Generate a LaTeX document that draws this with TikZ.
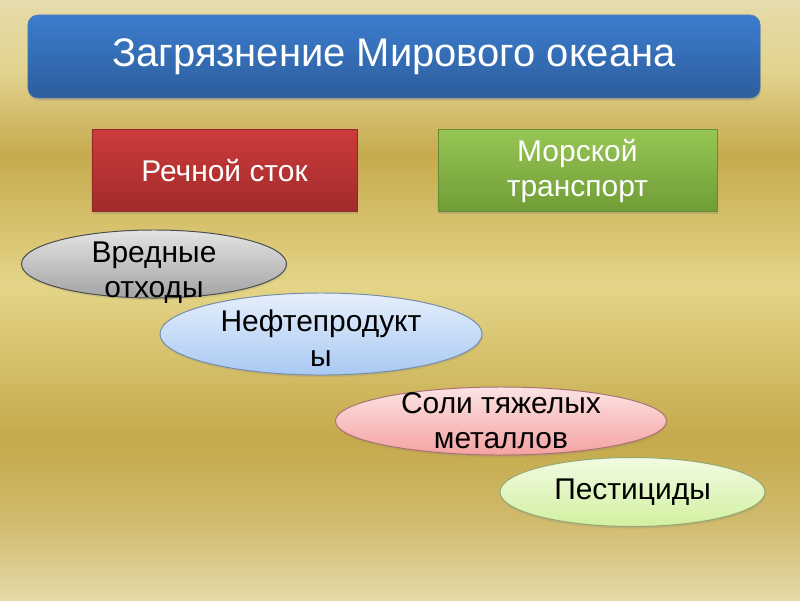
\documentclass[tikz,border=0pt]{standalone}
\usepackage{fontspec}
\setmainfont{Liberation Sans}
\usetikzlibrary{shapes.geometric, shadows, positioning}
\definecolor{bgA}{HTML}{E4D9A8}
\definecolor{bgB}{HTML}{D0BA6C}
\definecolor{bgC}{HTML}{C5A94B}
\definecolor{bgD}{HTML}{E4D588}
\definecolor{bgE}{HTML}{C6AA4E}
\definecolor{bgF}{HTML}{E2D38E}
\definecolor{bgG}{HTML}{E6DCAC}
\definecolor{titleT}{HTML}{3B7DCE}
\definecolor{titleB}{HTML}{2D5D9C}
\definecolor{redT}{HTML}{CD3B3B}
\definecolor{redB}{HTML}{A12B2B}
\definecolor{greenT}{HTML}{98C655}
\definecolor{greenB}{HTML}{709C36}
\definecolor{grayE}{HTML}{A3A3A3}
\definecolor{blueE}{HTML}{A9C9F3}
\definecolor{pinkE}{HTML}{F5A2A2}
\definecolor{limeE}{HTML}{D2F0A0}
% middle 50bp of the shading is mapped onto the path
\pgfdeclareverticalshading{goldbg}{100bp}{color(0bp)=(bgA); color(25bp)=(bgA);
  color(31.67bp)=(bgB); color(38.33bp)=(bgC); color(51.25bp)=(bgD);
  color(62.08bp)=(bgE); color(69.17bp)=(bgF); color(75bp)=(bgG);
  color(100bp)=(bgG)}

\begin{document}
\begin{tikzpicture}[
  x=0.025cm, y=0.025cm,
  headbox/.style={
    top color=titleT, bottom color=titleB, draw=titleB!80!white,
    text=white, font=\fontsize{28.4}{34}\selectfont,
    minimum width=18.3cm, minimum height=2.075cm,
    rounded corners=7pt, line width=0.4pt,
    drop shadow={opacity=0.3, shadow xshift=0.6pt, shadow yshift=-1.8pt}
  },
  srcbox/.style 2 args={
    top color=#1, bottom color=#2, draw=#2!90!black,
    text=white, font=\fontsize{21.3}{24.9}\selectfont, align=center,
    minimum height=2.05cm, line width=0.3pt,
    drop shadow={opacity=0.3, shadow xshift=0.6pt, shadow yshift=-1.8pt}
  },
  blob/.style={
    ellipse, inner sep=0pt,
    top color=#1!30!white, bottom color=#1, draw=#1!70!black,
    line width=0.7pt,
    drop shadow={opacity=0.2, shadow xshift=0.5pt, shadow yshift=-1.5pt}
  },
  blobtext/.style={
    font=\fontsize{21.3}{24.9}\selectfont, align=center, inner sep=0pt
  }
]

%% ═══ FON ═══
\shade[shading=goldbg] (0,0) rectangle (800,-600);

%% ═══ ZAGOLOVOK ═══
\node[headbox] (title) at (394,-56.5) {Загрязнение Мирового океана};

%% ═══ ISTOCHNIKI ═══
\node[srcbox={redT}{redB}, minimum width=6.625cm] (river) at (224.5,-170.5)
  {Речной сток};
\node[srcbox={greenT}{greenB}, minimum width=6.975cm, right=2.01cm of river] (sea)
  {Морской\\транспорт};

%% ═══ ZAGRYAZNITELI ═══
\node[blob=grayE, draw=black!70, minimum width=6.625cm, minimum height=1.7cm] (waste)
  at (154,-264) {};
\node[blobtext, yshift=-6pt] (wastetxt) at (waste) {Вредные\\отходы};

\node[blob=blueE, minimum width=8.05cm, minimum height=2.05cm] (oil)
  at (321,-334) {};
\node[blobtext, yshift=-3pt] (oiltxt) at (oil) {Нефтепродукт\\ы};

\node[blob=pinkE, minimum width=8.275cm, minimum height=1.7cm] (metal)
  at (501,-421) {};
\node[blobtext] (metaltxt) at (metal) {Соли тяжелых\\металлов};

\node[blob=limeE, minimum width=6.625cm, minimum height=1.725cm] (pest)
  at (632.5,-492) {};
\node[blobtext] (pesttxt) at (pest) {Пестициды};

\end{tikzpicture}
\end{document}
